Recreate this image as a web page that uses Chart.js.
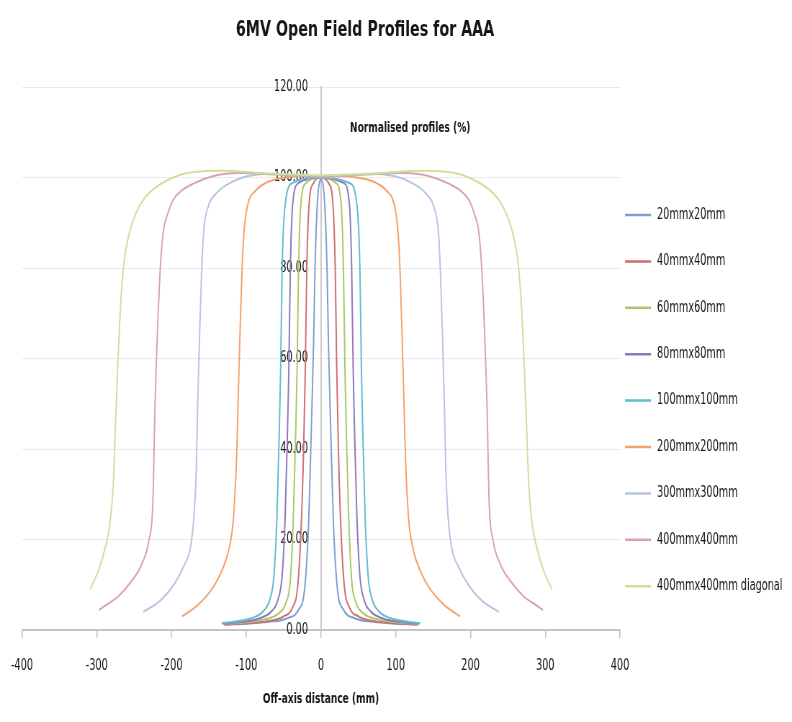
<!DOCTYPE html>
<html>
<head>
<meta charset="utf-8">
<script src="https://cdn.jsdelivr.net/npm/chart.js@4.4.1/dist/chart.umd.min.js"></script>
<style>
  html, body { margin: 0; padding: 0; background: #ffffff; }
</style>
</head>
<body>
<!-- drawn on a wider backing canvas and shown at 792px, giving the narrow lettering -->
<canvas id="c" width="1100" height="722" style="display:block;width:792px;height:722px"></canvas>
<script>
// Text
const chartTitle = '6MV Open Field Profiles for AAA';
const xAxisTitle = 'Off-axis distance (mm)';
const yAxisTitle = 'Normalised profiles (%)';
const seriesNames = [
  '20mmx20mm', '40mmx40mm', '60mmx60mm', '80mmx80mm', '100mmx100mm',
  '200mmx200mm', '300mmx300mm', '400mmx400mm', '400mmx400mm diagonal'
];
const xTickValues = [-400, -300, -200, -100, 0, 100, 200, 300, 400];
const yTickLabels = ['0.00', '20.00', '40.00', '60.00', '80.00', '100.00', '120.00'];

// Off-axis position (mm) and normalised dose (%) for each field
const x20  = [-128, -100, -70, -45, -30, -22, -17, -14, -12, -10, -8, -5, 0, 5, 8, 10, 12, 14, 17, 22, 30, 45, 70, 100, 128];
const y20  = [1.2, 1.4, 1.8, 2.6, 4.5, 9, 22, 38, 50, 63, 80, 94, 99.5, 94, 80, 63, 50, 38, 22, 9, 4.5, 2.6, 1.8, 1.4, 1.2];

const x40  = [-130, -100, -70, -50, -38, -31, -26, -23, -22, -21, -19, -16, -10, 0, 10, 16, 19, 21, 22, 23, 26, 31, 38, 50, 70, 100, 130];
const y40  = [1.2, 1.5, 2, 3, 5, 10, 25, 42, 50, 58, 80, 94, 98.8, 100, 98.8, 94, 80, 58, 50, 42, 25, 10, 5, 3, 2, 1.5, 1.2];

const x60  = [-130, -100, -75, -58, -47, -41, -37, -34, -33, -32, -30, -27, -20, 0, 20, 27, 30, 32, 33, 34, 37, 41, 47, 58, 75, 100, 130];
const y60  = [1.3, 1.7, 2.4, 3.5, 6, 11, 25, 43, 50, 58, 80, 94, 98.8, 100, 98.8, 94, 80, 58, 50, 43, 25, 11, 6, 3.5, 2.4, 1.7, 1.3];

const x80  = [-131, -105, -82, -67, -58, -52, -48, -45, -44, -43, -41, -38, -30, 0, 30, 38, 41, 43, 44, 45, 48, 52, 58, 67, 82, 105, 131];
const y80  = [1.4, 1.8, 2.6, 4, 6.5, 12, 25, 43, 50, 58, 80, 94, 98.8, 100, 98.8, 94, 80, 58, 50, 43, 25, 12, 6.5, 4, 2.6, 1.8, 1.4];

const x100 = [-133, -110, -90, -77, -68, -63, -59, -56, -55, -54, -52, -48, -38, 0, 38, 48, 52, 54, 55, 56, 59, 63, 68, 77, 90, 110, 133];
const y100 = [1.5, 2, 2.8, 4.2, 7, 12, 25, 43, 50, 58, 80, 94, 98.8, 100, 98.8, 94, 80, 58, 50, 43, 25, 12, 7, 4.2, 2.8, 2, 1.5];

const x200 = [-186, -165, -147, -133, -123, -117, -113, -111, -109, -106, -103, -98, -88, -75, -55, -30, 0,
              30, 55, 75, 88, 98, 103, 106, 109, 111, 113, 117, 123, 133, 147, 165, 186];
const y200 = [3, 5.5, 8.8, 13, 18, 25, 38, 50, 62, 78, 88, 94, 97, 98.7, 99.8, 100.3, 100.2,
              100.3, 99.8, 98.7, 97, 94, 88, 78, 62, 50, 38, 25, 18, 13, 8.8, 5.5, 3];

const x300 = [-238, -215, -197, -184, -175, -170, -167, -165, -163, -160, -157, -151, -140, -125, -105, -75, -40, 0,
              40, 75, 105, 125, 140, 151, 157, 160, 163, 165, 167, 170, 175, 184, 197, 215, 238];
const y300 = [4, 6.5, 10, 14, 18, 25, 35, 50, 62, 78, 88, 93.5, 96.5, 98.5, 100, 100.8, 100.5, 100.2,
              100.5, 100.8, 100, 98.5, 96.5, 93.5, 88, 78, 62, 50, 35, 25, 18, 14, 10, 6.5, 4];

const x400 = [-297, -285, -272, -255, -240, -230, -225, -222, -219, -215, -211, -205, -198, -185, -170, -145, -110, -60, 0,
              60, 110, 145, 170, 185, 198, 205, 211, 215, 219, 222, 225, 230, 240, 255, 272, 285, 297];
const y400 = [4.4, 5.8, 7.3, 10.5, 14.5, 20, 28, 50, 65, 80, 88, 92, 95, 97.3, 98.7, 100.3, 101, 100.7, 100.2,
              100.7, 101, 100.3, 98.7, 97.3, 95, 92, 88, 80, 65, 50, 28, 20, 14.5, 10.5, 7.3, 5.8, 4.4];

const xDiag = [-309, -298, -289, -282, -278, -275, -272, -268, -263, -256, -248, -238, -225, -210, -190, -170, -130, -80, 0,
               80, 130, 170, 190, 210, 225, 238, 248, 256, 263, 268, 272, 275, 278, 282, 289, 298, 309];
const yDiag = [9, 13, 18, 24, 32, 45, 58, 72, 82, 88, 92, 95, 97.3, 99, 100.5, 101.2, 101.5, 101, 100.5,
               101, 101.5, 101.2, 100.5, 99, 97.3, 95, 92, 88, 82, 72, 58, 45, 32, 24, 18, 13, 9];

const seriesX = [x20, x40, x60, x80, x100, x200, x300, x400, xDiag];
const seriesY = [y20, y40, y60, y80, y100, y200, y300, y400, yDiag];
const seriesColors = ['#7E9ED0', '#CF6F6D', '#A9C86A', '#8F7AB8', '#62BCD2',
                      '#F4A26A', '#B7C5E0', '#D9A3AE', '#CEDF9E'];

// backing-store width per displayed pixel (horizontal only)
const SQUEEZE = 792 / 1100;
const X = (px) => px / SQUEEZE;

const FONT = '"DejaVu Sans Condensed", "DejaVu Sans", sans-serif';
const TEXT = '#151515';

const datasets = seriesNames.map((name, i) => ({
  label: name,
  data: seriesX[i].map((x, j) => ({ x: x, y: seriesY[i][j] })),
  borderColor: seriesColors[i],
  backgroundColor: seriesColors[i],
  borderWidth: 2,
  pointRadius: 0,
  showLine: true,
  fill: false,
  cubicInterpolationMode: 'monotone',
  order: 9 - i
}));

// Title, horizontal y-axis caption and the legend column on the right
const decorations = {
  id: 'decorations',
  afterDraw(chart) {
    const ctx = chart.ctx;
    ctx.save();
    ctx.fillStyle = TEXT;
    ctx.textBaseline = 'middle';

    ctx.font = 'bold 22px ' + FONT;
    ctx.textAlign = 'center';
    ctx.fillText(chartTitle, X(365), 30);

    ctx.font = 'bold 14px ' + FONT;
    ctx.textAlign = 'left';
    ctx.fillText(yAxisTitle, X(350), 128);

    ctx.font = '15px ' + FONT;
    seriesNames.forEach((name, i) => {
      const y = 215 + i * 46.4;
      ctx.strokeStyle = seriesColors[i];
      ctx.lineWidth = 2.5;
      ctx.beginPath();
      ctx.moveTo(X(625), y);
      ctx.lineTo(X(651), y);
      ctx.stroke();
      ctx.fillStyle = TEXT;
      ctx.fillText(name, X(657), y);
    });
    ctx.restore();
  }
};

new Chart(document.getElementById('c'), {
  type: 'scatter',
  data: { datasets: datasets },
  options: {
    responsive: false,
    devicePixelRatio: 1,
    animation: false,
    layout: { padding: { left: X(22), right: X(792 - 620), top: 87, bottom: 8 } },
    plugins: {
      legend: { display: false },
      title: { display: false },
      tooltip: { enabled: false }
    },
    scales: {
      x: {
        type: 'linear',
        position: 'bottom',
        min: -400,
        max: 400,
        afterBuildTicks: (scale) => { scale.ticks = xTickValues.map(v => ({ value: v })); },
        afterFit: (scale) => { scale.height = 84; scale.paddingLeft = 0; scale.paddingRight = 0; },
        grid: { drawOnChartArea: false, drawTicks: true, tickLength: 8, color: '#BFBFBF', lineWidth: 1.5 },
        border: { color: '#C4C4C4', width: 2 },
        ticks: { color: TEXT, font: { family: FONT, size: 15 }, padding: 19, maxRotation: 0, autoSkip: false },
        title: {
          display: true, text: xAxisTitle, color: TEXT,
          font: { family: FONT, size: 14, weight: 'bold' },
          padding: { top: 4, bottom: 6 }
        }
      },
      y: {
        type: 'linear',
        position: 'center',   // x runs -400..400, so the centre line is x = 0
        min: 0,
        max: 120,
        afterBuildTicks: (scale) => { scale.ticks = yTickLabels.map(t => ({ value: parseFloat(t) })); },
        grid: { color: '#EAEAEA', lineWidth: 1, drawTicks: false },
        border: { color: '#CCCCCC', width: 2 },
        ticks: {
          color: TEXT, font: { family: FONT, size: 15 }, padding: X(13),
          callback: (v, i) => yTickLabels[i]
        }
      }
    }
  },
  plugins: [decorations]
});
</script>
</body>
</html>
